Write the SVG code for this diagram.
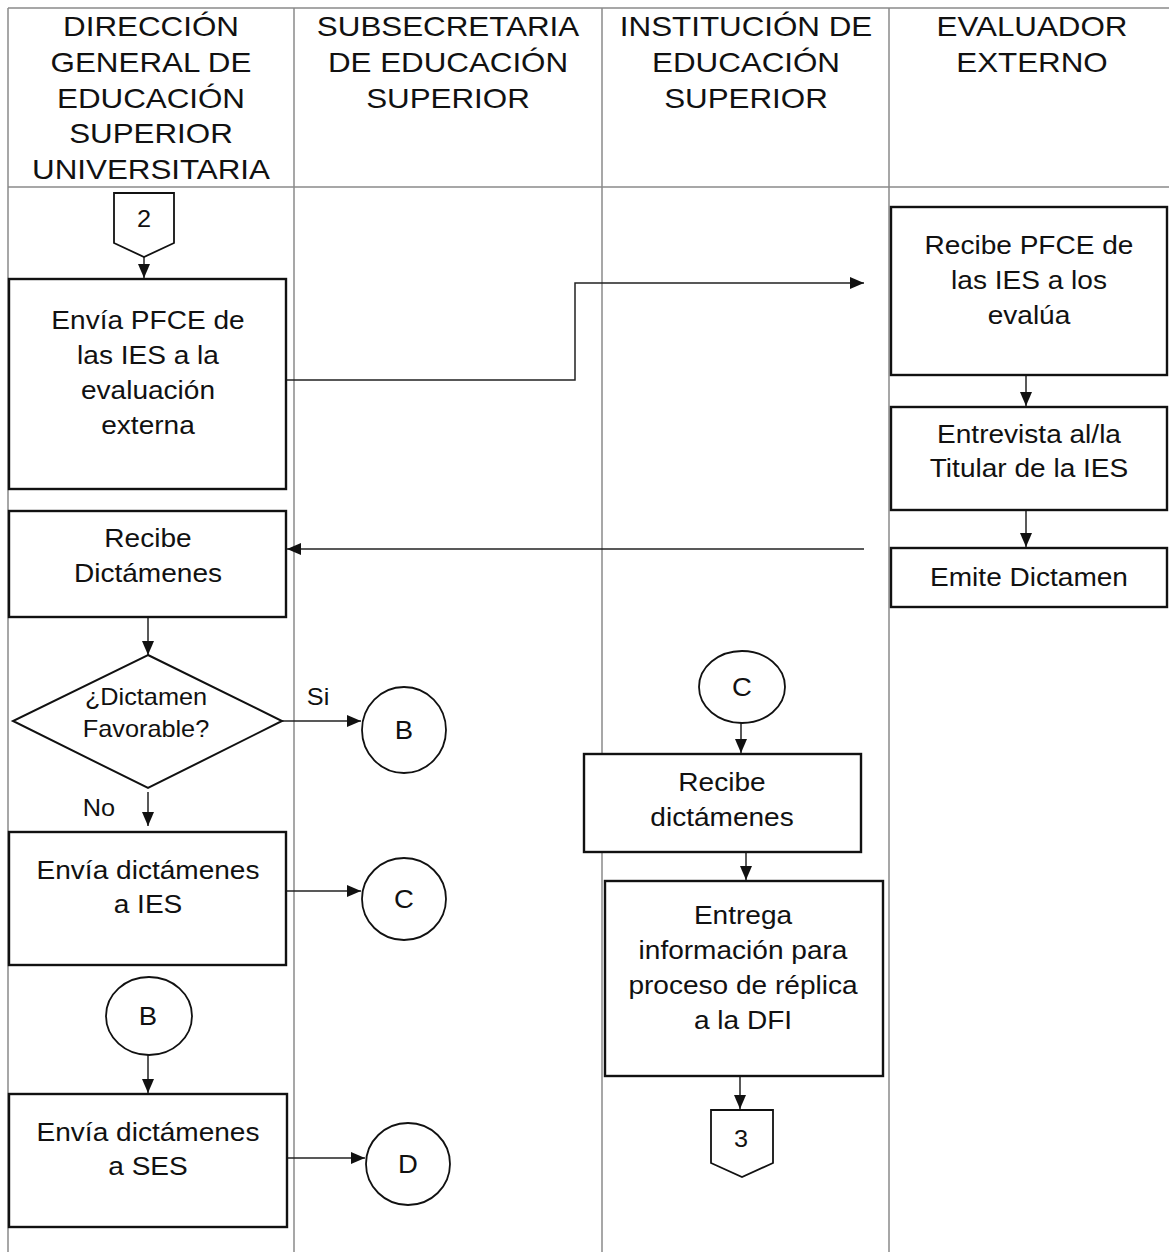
<svg xmlns="http://www.w3.org/2000/svg" width="1169" height="1254" viewBox="0 0 1169 1254">
<style>
.lane{stroke:#8a8a8a;stroke-width:1.5;fill:none}
.box{fill:#fff;stroke:#111;stroke-width:2.4}
.circ{fill:#fff;stroke:#111;stroke-width:1.8}
.con{fill:none;stroke:#222;stroke-width:1.5}
text{font-family:"Liberation Sans",Arial,sans-serif;fill:#111;text-anchor:middle}
.h{font-size:28.5px}
.t{font-size:25.5px}
.s{font-size:23px}
.l{font-size:25px}
</style>
<defs>
<marker id="ah" markerUnits="userSpaceOnUse" markerWidth="14" markerHeight="14" viewBox="0 0 14 14" refX="14" refY="7" orient="auto">
<path d="M0,1 L14,7 L0,13 z" fill="#111"/>
</marker>
</defs>
<rect width="1169" height="1254" fill="#fff"/>
<g id="lanes">
<line class="lane" x1="8" y1="8" x2="1169" y2="8"/>
<line class="lane" x1="8" y1="187" x2="1169" y2="187"/>
<line class="lane" x1="8" y1="8" x2="8" y2="1252"/>
<line class="lane" x1="294" y1="8" x2="294" y2="1252"/>
<line class="lane" x1="602" y1="8" x2="602" y2="1252"/>
<line class="lane" x1="889" y1="8" x2="889" y2="1252"/>
<text class="h" transform="translate(151,0) scale(1.1,1)"><tspan x="0" y="36">DIRECCIÓN</tspan><tspan x="0" y="72">GENERAL DE</tspan><tspan x="0" y="108">EDUCACIÓN</tspan><tspan x="0" y="143">SUPERIOR</tspan><tspan x="0" y="179">UNIVERSITARIA</tspan></text>
<text class="h" transform="translate(448,0) scale(1.1,1)"><tspan x="0" y="36">SUBSECRETARIA</tspan><tspan x="0" y="72">DE EDUCACIÓN</tspan><tspan x="0" y="108">SUPERIOR</tspan></text>
<text class="h" transform="translate(746,0) scale(1.1,1)"><tspan x="0" y="36">INSTITUCIÓN DE</tspan><tspan x="0" y="72">EDUCACIÓN</tspan><tspan x="0" y="108">SUPERIOR</tspan></text>
<text class="h" transform="translate(1032,0) scale(1.1,1)"><tspan x="0" y="36">EVALUADOR</tspan><tspan x="0" y="72">EXTERNO</tspan></text>
</g>
<g id="connectors">
<path class="con" d="M144,257 V278" marker-end="url(#ah)"/>
<path class="con" d="M286,380 H575 V283 H864" marker-end="url(#ah)"/>
<path class="con" d="M1026,375 V406" marker-end="url(#ah)"/>
<path class="con" d="M1026,510 V547" marker-end="url(#ah)"/>
<path class="con" d="M864,549 H287" marker-end="url(#ah)"/>
<path class="con" d="M148,617 V655" marker-end="url(#ah)"/>
<path class="con" d="M282,721 H361" marker-end="url(#ah)"/>
<path class="con" d="M148,792 V826" marker-end="url(#ah)"/>
<path class="con" d="M286,891 H361" marker-end="url(#ah)"/>
<path class="con" d="M148,1055 V1093" marker-end="url(#ah)"/>
<path class="con" d="M287,1158 H365" marker-end="url(#ah)"/>
<path class="con" d="M741,722 V753" marker-end="url(#ah)"/>
<path class="con" d="M746,852 V880" marker-end="url(#ah)"/>
<path class="con" d="M740,1076 V1109" marker-end="url(#ah)"/>
<text class="s" transform="translate(318,705) scale(1.1,1)" x="0" y="0">Si</text>
<text class="s" transform="translate(99,816) scale(1.1,1)" x="0" y="0">No</text>
</g>
<g id="offpage2">
<path class="circ" d="M114,193 H174 V243 L144,257 L114,243 Z"/>
<text class="s" transform="translate(144,227) scale(1.1,1)">2</text>
</g>
<g id="enviaPFCE">
<rect class="box" x="9" y="279" width="277" height="210"/>
<text class="t" transform="translate(148,0) scale(1.1,1)"><tspan x="0" y="329">Envía PFCE de</tspan><tspan x="0" y="364">las IES a la</tspan><tspan x="0" y="399">evaluación</tspan><tspan x="0" y="434">externa</tspan></text>
</g>
<g id="recibePFCE">
<rect class="box" x="891" y="207" width="276" height="168"/>
<text class="t" transform="translate(1029,0) scale(1.1,1)"><tspan x="0" y="254">Recibe PFCE de</tspan><tspan x="0" y="289">las IES a los</tspan><tspan x="0" y="324">evalúa</tspan></text>
</g>
<g id="entrevista">
<rect class="box" x="891" y="407" width="276" height="103"/>
<text class="t" transform="translate(1029,0) scale(1.1,1)"><tspan x="0" y="443">Entrevista al/la</tspan><tspan x="0" y="477">Titular de la IES</tspan></text>
</g>
<g id="emite">
<rect class="box" x="891" y="548" width="276" height="59"/>
<text class="t" transform="translate(1029,586) scale(1.1,1)">Emite Dictamen</text>
</g>
<g id="recibeDictamenes">
<rect class="box" x="9" y="511" width="277" height="106"/>
<text class="t" transform="translate(148,0) scale(1.1,1)"><tspan x="0" y="547">Recibe</tspan><tspan x="0" y="582">Dictámenes</tspan></text>
</g>
<g id="decision">
<path class="box" d="M148,655 L282,721 L148,788 L13,721 Z" style="stroke-width:2"/>
<text class="s" transform="translate(146,0) scale(1.1,1)"><tspan x="0" y="705">¿Dictamen</tspan><tspan x="0" y="737">Favorable?</tspan></text>
</g>
<g id="circB1">
<ellipse class="circ" cx="404" cy="730" rx="42" ry="43"/>
<text class="l" transform="translate(404,739) scale(1.1,1)">B</text>
</g>
<g id="enviaIES">
<rect class="box" x="9" y="832" width="277" height="133"/>
<text class="t" transform="translate(148,0) scale(1.1,1)"><tspan x="0" y="879">Envía dictámenes</tspan><tspan x="0" y="913">a IES</tspan></text>
</g>
<g id="circC1">
<ellipse class="circ" cx="404" cy="899" rx="42" ry="41"/>
<text class="l" transform="translate(404,908) scale(1.1,1)">C</text>
</g>
<g id="circB2">
<ellipse class="circ" cx="149" cy="1016" rx="43" ry="39"/>
<text class="l" transform="translate(148,1025) scale(1.1,1)">B</text>
</g>
<g id="enviaSES">
<rect class="box" x="9" y="1094" width="278" height="133"/>
<text class="t" transform="translate(148,0) scale(1.1,1)"><tspan x="0" y="1141">Envía dictámenes</tspan><tspan x="0" y="1175">a SES</tspan></text>
</g>
<g id="circD">
<ellipse class="circ" cx="408" cy="1164" rx="42" ry="41"/>
<text class="l" transform="translate(408,1173) scale(1.1,1)">D</text>
</g>
<g id="circC2">
<ellipse class="circ" cx="742" cy="687" rx="43" ry="36"/>
<text class="l" transform="translate(742,696) scale(1.1,1)">C</text>
</g>
<g id="recibeDict2">
<rect class="box" x="584" y="754" width="277" height="98"/>
<text class="t" transform="translate(722,0) scale(1.1,1)"><tspan x="0" y="791">Recibe</tspan><tspan x="0" y="826">dictámenes</tspan></text>
</g>
<g id="entrega">
<rect class="box" x="605" y="881" width="278" height="195"/>
<text class="t" transform="translate(743,0) scale(1.1,1)"><tspan x="0" y="924">Entrega</tspan><tspan x="0" y="959">información para</tspan><tspan x="0" y="994">proceso de réplica</tspan><tspan x="0" y="1029">a la DFI</tspan></text>
</g>
<g id="offpage3">
<path class="circ" d="M711,1110 H773 V1163 L742,1177 L711,1163 Z"/>
<text class="s" transform="translate(741,1147) scale(1.1,1)">3</text>
</g>
</svg>
